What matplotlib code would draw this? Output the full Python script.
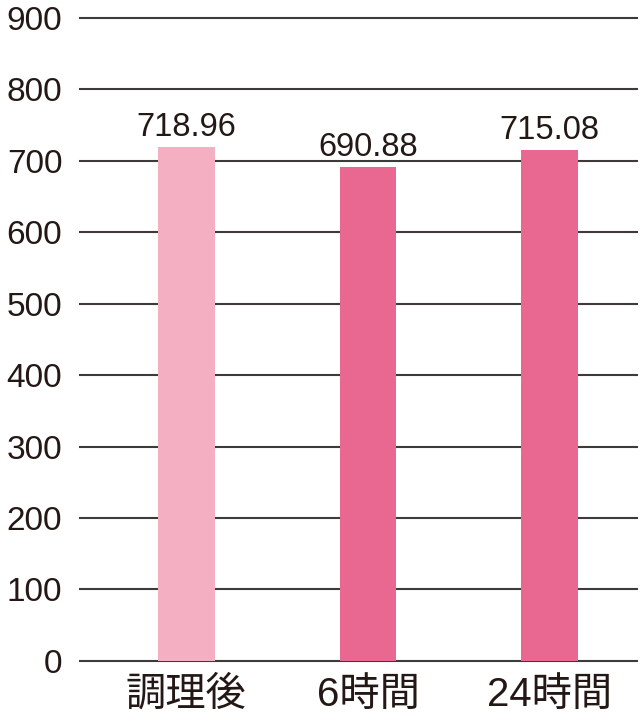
import matplotlib
matplotlib.use("Agg")
import matplotlib.pyplot as plt

# Data
categories = ["調理後", "6時間", "24時間"]
values = [718.96, 690.88, 715.08]
value_labels = ["718.96", "690.88", "715.08"]
yticks = [0, 100, 200, 300, 400, 500, 600, 700, 800, 900]

bar_colors = ["#f4afc2", "#e96891", "#e96891"]
text_color = "#231815"
grid_color = "#3e3a39"

plt.rcParams['font.family'] = ['Liberation Sans', 'Noto Sans CJK JP', 'DejaVu Sans']

fig = plt.figure(figsize=(6.4, 7.22), dpi=100)
ax = fig.add_axes([0.1234, 0.0816, 0.8736, 0.8965])

x = range(len(categories))
bars = ax.bar(x, values, width=0.313, color=bar_colors, zorder=3)

for b, lab in zip(bars, value_labels):
    ax.annotate(lab, (b.get_x() + b.get_width() / 2, b.get_height()),
                xytext=(0, 3), textcoords="offset points",
                ha="center", va="bottom", fontsize=23.5, color=text_color)

ax.set_ylim(-3, 903)
ax.set_xlim(-0.59, 2.486)
ax.set_yticks(yticks)
ax.set_xticks(list(x))
ax.set_xticklabels(categories, fontsize=29, color=text_color)
ax.tick_params(axis="y", length=0, pad=12, labelsize=24, labelcolor=text_color)
ax.tick_params(axis="x", length=0, pad=9)

ax.yaxis.grid(True, color=grid_color, linewidth=1.5)
ax.set_axisbelow(True)
for s in ax.spines.values():
    s.set_visible(False)

fig.savefig("out.png", dpi=100)
